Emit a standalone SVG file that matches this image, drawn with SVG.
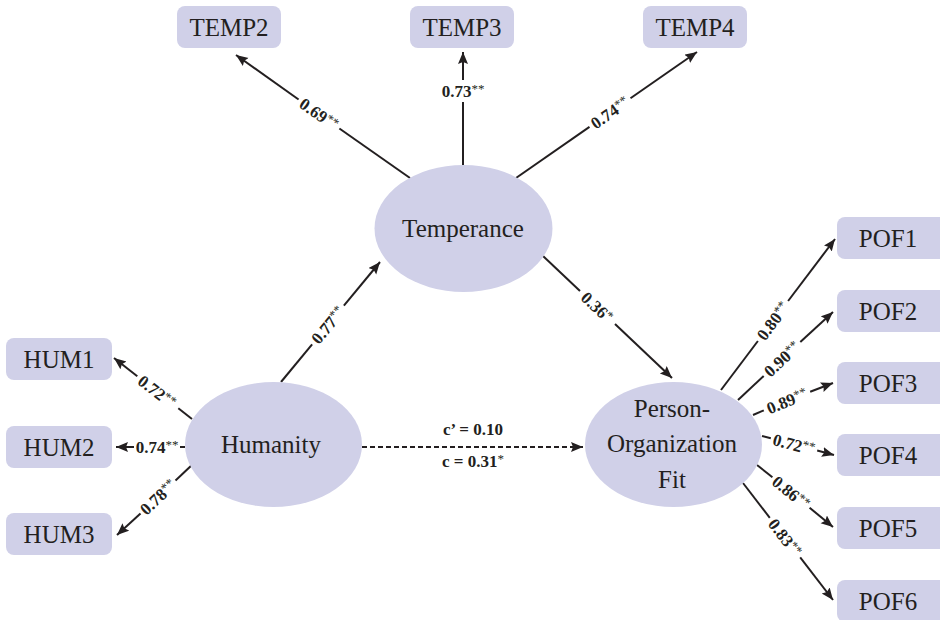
<svg xmlns="http://www.w3.org/2000/svg" width="940" height="620" viewBox="0 0 940 620">
<defs>
<style>
.box{fill:#d0d0e8;}
.ell{fill:#d0d0e8;}
.nt{font-family:"Liberation Serif","Times New Roman",serif;font-size:25px;fill:#231f20;text-anchor:middle;}
.ln{stroke:#231f20;stroke-width:2;fill:none;}
.arr{marker-end:url(#ah);}
.dash{stroke-dasharray:5 3;}
.lb{font-family:"Liberation Serif","Times New Roman",serif;font-size:17px;font-weight:bold;fill:#231f20;text-anchor:middle;}
.sup{font-size:13px;font-weight:normal;}
</style>
<marker id="ah" markerUnits="userSpaceOnUse" markerWidth="14" markerHeight="12" refX="12" refY="5" orient="auto">
<path d="M0,0 L12,5 L0,10 L2,5 Z" fill="#231f20"/>
</marker>
</defs>
<rect width="940" height="620" fill="#ffffff"/>

<g id="connectors">
<!-- Temperance -> TEMP2 -->
<line class="ln" x1="410" y1="178" x2="339.4" y2="128.5"/>
<line class="ln arr" x1="298.6" y1="99.5" x2="236" y2="55"/>
<text class="lb" x="319" y="120" transform="rotate(35.3 319 114)">0.69<tspan class="sup" dy="-4">**</tspan></text>
<!-- Temperance -> TEMP3 -->
<line class="ln" x1="463" y1="165" x2="463" y2="102"/>
<line class="ln arr" x1="463" y1="80" x2="463" y2="52"/>
<text class="lb" x="463" y="97">0.73<tspan class="sup" dy="-4">**</tspan></text>
<!-- Temperance -> TEMP4 -->
<line class="ln" x1="516" y1="178" x2="589.5" y2="126.9"/>
<line class="ln arr" x1="630.5" y1="98.3" x2="697" y2="52"/>
<text class="lb" x="610" y="118.6" transform="rotate(-34.8 610 112.6)">0.74<tspan class="sup" dy="-4">**</tspan></text>
<!-- Humanity -> Temperance -->
<line class="ln" x1="281" y1="382" x2="312.1" y2="344.3"/>
<line class="ln arr" x1="343.9" y1="305.7" x2="380" y2="262"/>
<text class="lb" x="328" y="331" transform="rotate(-50.5 328 325)">0.77<tspan class="sup" dy="-4">**</tspan></text>
<!-- Temperance -> POF -->
<line class="ln" x1="543" y1="256" x2="580" y2="290.9"/>
<line class="ln arr" x1="615" y1="324" x2="672" y2="378"/>
<text class="lb" x="597" y="313" transform="rotate(43.4 597 307)">0.36<tspan class="sup" dy="-4">*</tspan></text>
<!-- Humanity -> POF (dashed) -->
<line class="ln arr dash" x1="362" y1="447" x2="583" y2="447"/>
<text class="lb" x="473" y="435">c’ = 0.10</text>
<text class="lb" x="473" y="467">c = 0.31<tspan class="sup" dy="-4">*</tspan></text>
<!-- Humanity -> HUM1 -->
<line class="ln" x1="192" y1="419" x2="178.3" y2="408.2"/>
<line class="ln arr" x1="137.3" y1="376.2" x2="114" y2="358"/>
<text class="lb" x="157" y="397.6" transform="rotate(38 157 391.6)">0.72<tspan class="sup" dy="-4">**</tspan></text>
<!-- Humanity -> HUM2 -->
<line class="ln" x1="185" y1="447" x2="180" y2="447"/>
<line class="ln arr" x1="134" y1="447" x2="116" y2="447"/>
<text class="lb" x="157" y="453">0.74<tspan class="sup" dy="-4">**</tspan></text>
<!-- Humanity -> HUM3 -->
<line class="ln" x1="193" y1="464" x2="175.5" y2="480.6"/>
<line class="ln arr" x1="140.5" y1="513.4" x2="117" y2="535"/>
<text class="lb" x="158" y="503" transform="rotate(-43 158 497)">0.78<tspan class="sup" dy="-4">**</tspan></text>
<!-- POF -> POF1 -->
<line class="ln" x1="721" y1="390" x2="757.9" y2="341"/>
<line class="ln arr" x1="788.1" y1="301" x2="835" y2="239"/>
<text class="lb" x="773" y="327" transform="rotate(-53 773 321)">0.80<tspan class="sup" dy="-4">**</tspan></text>
<!-- POF -> POF2 -->
<line class="ln" x1="738" y1="400" x2="763.7" y2="376"/>
<line class="ln arr" x1="800.3" y1="342" x2="833" y2="312"/>
<text class="lb" x="782" y="365" transform="rotate(-42.8 782 359)">0.90<tspan class="sup" dy="-4">**</tspan></text>
<!-- POF -> POF3 -->
<line class="ln" x1="753" y1="415" x2="763.8" y2="410.3"/>
<line class="ln arr" x1="810.2" y1="391.7" x2="833" y2="383"/>
<text class="lb" x="787" y="407" transform="rotate(-21.8 787 401)">0.89<tspan class="sup" dy="-4">**</tspan></text>
<!-- POF -> POF4 -->
<line class="ln" x1="762" y1="436" x2="770.8" y2="438.3"/>
<line class="ln arr" x1="817.2" y1="450.5" x2="834" y2="455"/>
<text class="lb" x="794" y="450.4" transform="rotate(14.8 794 444.4)">0.72<tspan class="sup" dy="-4">**</tspan></text>
<!-- POF -> POF5 -->
<line class="ln" x1="757" y1="465" x2="772.4" y2="477.3"/>
<line class="ln arr" x1="809.6" y1="507.7" x2="833" y2="527"/>
<text class="lb" x="791" y="498.5" transform="rotate(39.2 791 492.5)">0.86<tspan class="sup" dy="-4">**</tspan></text>
<!-- POF -> POF6 -->
<line class="ln" x1="743" y1="483" x2="769.8" y2="517.8"/>
<line class="ln arr" x1="800.2" y1="557.4" x2="833" y2="600"/>
<text class="lb" x="785" y="543.6" transform="rotate(52.4 785 537.6)">0.83<tspan class="sup" dy="-4">**</tspan></text>
</g>

<g id="temp2"><rect class="box" x="177" y="6" width="104" height="42" rx="8"/><text class="nt" x="229" y="36">TEMP2</text></g>
<g id="temp3"><rect class="box" x="410" y="6" width="104" height="42" rx="8"/><text class="nt" x="462" y="36">TEMP3</text></g>
<g id="temp4"><rect class="box" x="643" y="6" width="104" height="42" rx="8"/><text class="nt" x="695" y="36">TEMP4</text></g>

<g id="temperance"><ellipse class="ell" cx="463.5" cy="228.5" rx="89" ry="63.5"/><text class="nt" x="463" y="237">Temperance</text></g>
<g id="humanity"><ellipse class="ell" cx="273.5" cy="444.5" rx="88.5" ry="62.5"/><text class="nt" x="271" y="453">Humanity</text></g>
<g id="pof"><ellipse class="ell" cx="673.5" cy="444.5" rx="88.5" ry="62.5"/>
<text class="nt" x="672" y="417">Person-</text>
<text class="nt" x="672" y="452">Organization</text>
<text class="nt" x="672" y="488">Fit</text></g>

<g id="hum1"><rect class="box" x="6" y="338" width="106" height="42" rx="8"/><text class="nt" x="59" y="368">HUM1</text></g>
<g id="hum2"><rect class="box" x="6" y="426" width="106" height="42" rx="8"/><text class="nt" x="59" y="456">HUM2</text></g>
<g id="hum3"><rect class="box" x="6" y="513" width="106" height="42" rx="8"/><text class="nt" x="59" y="543">HUM3</text></g>

<g id="pof1"><rect class="box" x="837" y="217" width="110" height="42" rx="8"/><text class="nt" x="888" y="247">POF1</text></g>
<g id="pof2"><rect class="box" x="837" y="290" width="110" height="42" rx="8"/><text class="nt" x="888" y="320">POF2</text></g>
<g id="pof3"><rect class="box" x="837" y="362" width="110" height="42" rx="8"/><text class="nt" x="888" y="392">POF3</text></g>
<g id="pof4"><rect class="box" x="837" y="434" width="110" height="42" rx="8"/><text class="nt" x="888" y="464">POF4</text></g>
<g id="pof5"><rect class="box" x="837" y="507" width="110" height="42" rx="8"/><text class="nt" x="888" y="537">POF5</text></g>
<g id="pof6"><rect class="box" x="837" y="580" width="110" height="42" rx="8"/><text class="nt" x="888" y="610">POF6</text></g>
</svg>
